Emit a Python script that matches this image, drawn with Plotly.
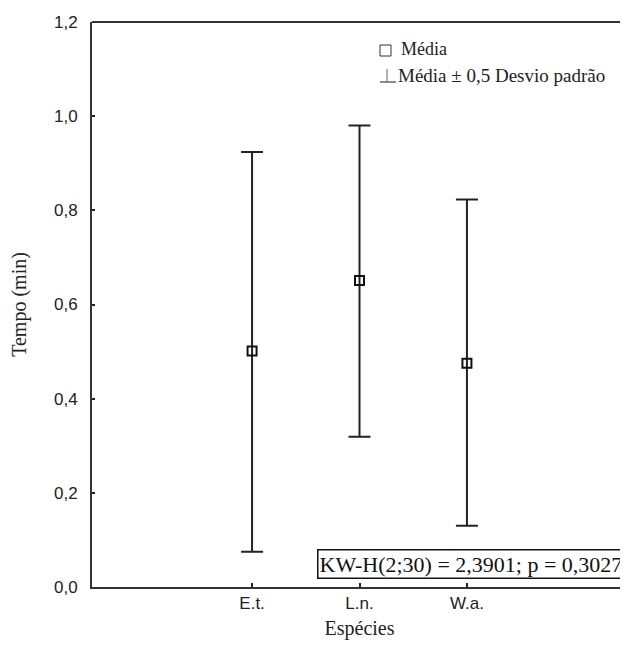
import plotly.graph_objects as go

categories = ["E.t.", "L.n.", "W.a."]
cat_pos = [1, 2, 3]
means = [0.501, 0.651, 0.475]
upper = [0.924, 0.980, 0.823]
lower = [0.075, 0.319, 0.130]
ytick_vals = [0.0, 0.2, 0.4, 0.6, 0.8, 1.0, 1.2]
ytick_text = ["0,0", "0,2", "0,4", "0,6", "0,8", "1,0", "1,2"]

err_plus = [u - m for u, m in zip(upper, means)]
err_minus = [m - l for m, l in zip(means, lower)]

fig = go.Figure()
fig.add_trace(go.Scatter(
    x=cat_pos, y=means, mode="markers",
    marker=dict(symbol="square-open", size=9, color="#111", line=dict(width=2, color="#111")),
    error_y=dict(type="data", symmetric=False, array=err_plus, arrayminus=err_minus,
                 color="#222", thickness=2, width=11),
    showlegend=False,
))

serif = "Liberation Serif, Times New Roman, serif"
sans = "Liberation Sans, Arial, sans-serif"

# plot area target (page px): x 92..627, y 22..587 ; page body has 8px margin
PL, PR, PT, PB = 92, 627, 22, 587
def px(x):
    return (x - PL) / (PR - PL)
def py(y):
    return (PB - y) / (PB - PT)

fig.update_layout(
    width=620, height=637,
    margin=dict(l=84, r=1, t=14, b=58),
    paper_bgcolor="white", plot_bgcolor="white",
    xaxis=dict(range=[-0.49, 4.49], tickvals=cat_pos, ticktext=categories,
               ticks="inside", ticklen=4, tickcolor="#222", tickwidth=1.5,
               showgrid=False, zeroline=False, showline=True, linecolor="#333", linewidth=2,
               tickfont=dict(family=sans, size=17, color="#222"),
               title=dict(text="Espécies", font=dict(family=serif, size=20, color="#222"), standoff=9)),
    yaxis=dict(range=[0, 1.2], tickvals=ytick_vals, ticktext=ytick_text,
               ticks="inside", ticklen=3, tickcolor="#222", tickwidth=1.5,
               showgrid=False, zeroline=False, showline=True, linecolor="#333", linewidth=2,
               ticklabelstandoff=9,
               tickfont=dict(family=sans, size=17, color="#222"),
               title=dict(text="Tempo (min)", font=dict(family=serif, size=20, color="#222"), standoff=22)),
    shapes=[
        dict(type="line", xref="paper", yref="paper", x0=0, x1=1, y0=1, y1=1,
             line=dict(color="#333", width=2)),
        dict(type="line", xref="paper", yref="paper", x0=1, x1=1, y0=0, y1=1,
             line=dict(color="#777", width=1)),
        # legend glyphs
        dict(type="rect", xref="paper", yref="paper",
             x0=px(380), x1=px(391), y0=py(56), y1=py(45),
             line=dict(color="#333", width=1), fillcolor="white"),
        dict(type="line", xref="paper", yref="paper",
             x0=px(387), x1=px(387), y0=py(82), y1=py(69),
             line=dict(color="#666", width=1)),
        dict(type="line", xref="paper", yref="paper",
             x0=px(380), x1=px(396), y0=py(82), y1=py(82),
             line=dict(color="#666", width=1.5)),
    ],
    annotations=[
        dict(text="Média", xref="paper", yref="paper", x=px(399), y=py(49),
             xanchor="left", yanchor="middle", showarrow=False,
             font=dict(family=serif, size=18, color="#222")),
        dict(text="Média ± 0,5 Desvio padrão", xref="paper", yref="paper",
             x=px(396), y=py(75),
             xanchor="left", yanchor="middle", showarrow=False,
             font=dict(family=serif, size=19, color="#222")),
        dict(text="KW-H(2;30) = 2,3901; p = 0,3027", xref="paper", yref="paper",
             x=px(625), y=py(564), xanchor="right", yanchor="middle", showarrow=False,
             font=dict(family=serif, size=22, color="#111"),
             bordercolor="#111", borderwidth=1.5, borderpad=1, bgcolor="white"),
    ],
)

fig.write_html("out.html")
